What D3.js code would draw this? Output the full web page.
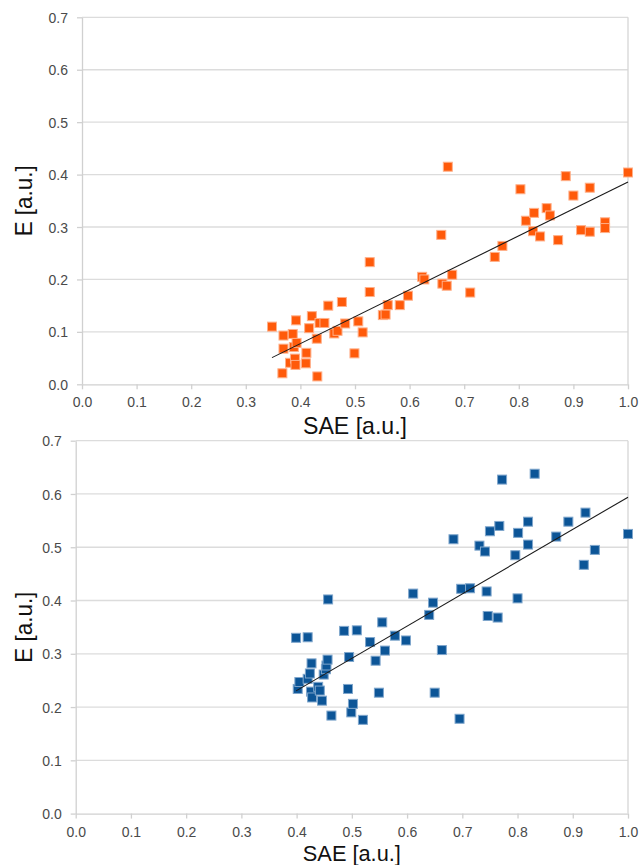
<!DOCTYPE html>
<html>
<head>
<meta charset="utf-8">
<script src="https://cdn.jsdelivr.net/npm/d3@7"></script>
<style>
  html, body { margin: 0; padding: 0; background: #fff; }
  svg { display: block; }
  .tick text { font-family: "Liberation Sans", Arial, sans-serif; font-size: 14px; fill: #4a4a4a; }
  .title { font-family: "Liberation Sans", Arial, sans-serif; fill: #111; }
</style>
</head>
<body>
<svg id="chart" width="641" height="865"></svg>
<script>
// SAE vs E, first sample set (orange)
const saeA = [0.348,0.367,0.369,0.369,0.381,0.386,0.388,0.390,0.391,0.392,
              0.393,0.410,0.411,0.416,0.421,0.430,0.431,0.435,0.444,0.451,
              0.462,0.468,0.476,0.482,0.499,0.506,0.514,0.527,0.527,0.551,
              0.556,0.560,0.582,0.597,0.623,0.627,0.658,0.660,0.668,0.670,
              0.678,0.711,0.756,0.770,0.803,0.813,0.826,0.828,0.839,0.851,
              0.857,0.872,0.886,0.900,0.914,0.930,0.930,0.958,0.958,1.000];
const eA   = [0.110,0.021,0.093,0.068,0.041,0.096,0.071,0.049,0.037,0.122,
              0.079,0.040,0.060,0.107,0.130,0.087,0.015,0.117,0.117,0.150,
              0.097,0.102,0.157,0.116,0.059,0.120,0.099,0.233,0.176,0.132,
              0.133,0.151,0.151,0.169,0.205,0.200,0.285,0.192,0.188,0.415,
              0.209,0.175,0.243,0.264,0.372,0.312,0.292,0.327,0.282,0.336,
              0.322,0.275,0.397,0.360,0.294,0.375,0.291,0.309,0.298,0.404];
// linear trend for set A: E = slope * SAE + intercept
const trendA = { slope: 0.514, intercept: -0.128 };

// SAE vs E, second sample set (blue)
const saeB = [0.399,0.402,0.405,0.420,0.420,0.424,0.426,0.427,0.428,0.439,
              0.442,0.446,0.449,0.453,0.454,0.456,0.457,0.463,0.486,0.493,
              0.495,0.499,0.502,0.509,0.520,0.533,0.543,0.549,0.555,0.560,
              0.578,0.598,0.611,0.640,0.647,0.650,0.663,0.684,0.695,0.698,
              0.714,0.731,0.741,0.744,0.746,0.750,0.764,0.767,0.772,0.796,
              0.800,0.801,0.819,0.819,0.831,0.870,0.892,0.920,0.923,0.940,
              1.000];
const eB   = [0.330,0.234,0.247,0.331,0.253,0.263,0.229,0.282,0.218,0.238,
              0.231,0.212,0.261,0.271,0.278,0.289,0.402,0.184,0.343,0.234,
              0.294,0.190,0.206,0.344,0.176,0.322,0.287,0.227,0.359,0.306,
              0.334,0.325,0.413,0.373,0.396,0.227,0.307,0.515,0.178,0.422,
              0.423,0.503,0.492,0.417,0.371,0.530,0.368,0.540,0.627,0.485,
              0.404,0.527,0.548,0.505,0.638,0.520,0.548,0.467,0.565,0.495,
              0.525];
const trendB = { slope: 0.605, intercept: -0.011 };

const xTicks = [0.0,0.1,0.2,0.3,0.4,0.5,0.6,0.7,0.8,0.9,1.0];
const yTicks = [0.0,0.1,0.2,0.3,0.4,0.5,0.6,0.7];
const xLabel = "SAE [a.u.]";
const yLabel = "E [a.u.]";

const svg = d3.select("#chart");

function panel(box, xs, ys, trend, color, edge) {
  const x = d3.scaleLinear().domain([0, 1]).range([box.left, box.right]);
  const y = d3.scaleLinear().domain([0, 0.7]).range([box.bottom, box.top]);
  const g = svg.append("g");

  // horizontal gridlines
  g.append("g").selectAll("line").data(yTicks.slice(1)).join("line")
    .attr("x1", box.left).attr("x2", box.right)
    .attr("y1", d => y(d)).attr("y2", d => y(d))
    .attr("stroke", "#dcdcdc").attr("stroke-width", 1.3);
  // right frame edge
  g.append("line")
    .attr("x1", box.right).attr("x2", box.right)
    .attr("y1", box.top).attr("y2", box.bottom)
    .attr("stroke", "#d6d6d6").attr("stroke-width", 1.3);

  const xAxis = g.append("g").attr("transform", `translate(0,${box.bottom})`)
    .call(d3.axisBottom(x).tickValues(xTicks).tickFormat(d3.format(".1f")).tickSizeInner(5).tickSizeOuter(0).tickPadding(8));
  const yAxis = g.append("g").attr("transform", `translate(${box.left},0)`)
    .call(d3.axisLeft(y).tickValues(yTicks).tickFormat(d3.format(".1f")).tickSizeInner(5).tickSizeOuter(0).tickPadding(box.yPad));
  [xAxis, yAxis].forEach(a => {
    a.select(".domain").attr("stroke", "#d0d0d0").attr("stroke-width", 1.3);
    a.selectAll(".tick line").attr("stroke", "#d0d0d0").attr("stroke-width", 1.3);
  });
  yAxis.selectAll(".tick text").attr("dy", "0.36em");

  // markers
  const pts = xs.map((v, i) => [v, ys[i]]);
  const s = 9;
  g.append("g").selectAll("rect").data(pts).join("rect")
    .attr("x", d => x(d[0]) - s / 2).attr("y", d => y(d[1]) - s / 2)
    .attr("width", s).attr("height", s)
    .attr("fill", color).attr("stroke", edge).attr("stroke-width", 1);

  // trend line across the data range
  const x0 = d3.min(xs), x1 = d3.max(xs);
  g.append("line")
    .attr("x1", x(x0)).attr("y1", y(trend.slope * x0 + trend.intercept))
    .attr("x2", x(x1)).attr("y2", y(trend.slope * x1 + trend.intercept))
    .attr("stroke", "#1a1a1a").attr("stroke-width", 1.1);

  // axis titles (condensed to the narrow title face width)
  g.append("text").attr("class", "title")
    .attr("x", (box.left + box.right) / 2).attr("y", box.bottom + box.xTitleDy)
    .attr("text-anchor", "middle").attr("font-size", box.xTitleSize)
    .attr("textLength", box.xTitleLen).attr("lengthAdjust", "spacingAndGlyphs")
    .text(xLabel);
  g.append("text").attr("class", "title")
    .attr("transform", `translate(${box.titleX},${(box.top + box.bottom) / 2}) rotate(-90)`)
    .attr("text-anchor", "middle").attr("font-size", 24)
    .attr("textLength", 71).attr("lengthAdjust", "spacingAndGlyphs")
    .text(yLabel);
}

panel({ left: 82, right: 628, top: 17.3, bottom: 384.3, yPad: 9, titleX: 32,
        xTitleDy: 50, xTitleSize: 24, xTitleLen: 104 },
      saeA, eA, trendA, "#ff5a0a", "#ffb08a");
panel({ left: 75.7, right: 628, top: 440.7, bottom: 813.6, yPad: 9, titleX: 32,
        xTitleDy: 47, xTitleSize: 22, xTitleLen: 98 },
      saeB, eB, trendB, "#0c5597", "#7fa6cc");
</script>
</body>
</html>
